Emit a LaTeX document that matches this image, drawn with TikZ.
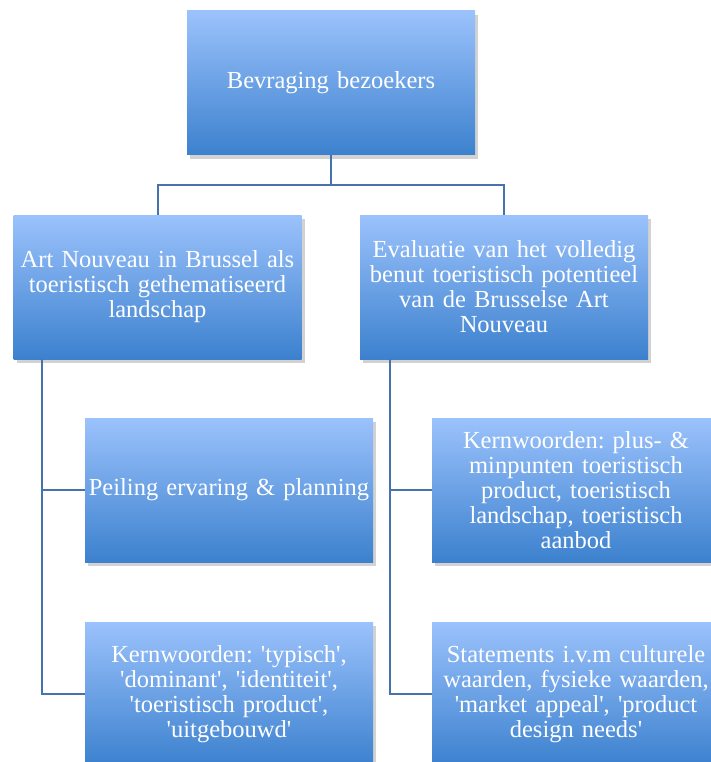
\documentclass[tikz,border=0pt]{standalone}
\usepackage{fontspec}
\setmainfont{Liberation Serif}
\usetikzlibrary{shadows}
\definecolor{blokboven}{RGB}{155,194,252}
\definecolor{blokmidden}{RGB}{134,178,242}
\definecolor{blokonder}{RGB}{60,129,206}
\definecolor{lijnkleur}{RGB}{70,114,174}
\newcommand\aq{\textquotesingle}
\newcommand\blokfont{\fontsize{24.5}{25}\selectfont\frenchspacing}
\tikzset{
  blok/.style={minimum width=288pt, minimum height=144pt, inner sep=1pt,
    text width=286pt, align=center, text=white, font=\blokfont,
    top color=blokboven, middle color=blokmidden, bottom color=blokonder,
    drop shadow={opacity=.35, shadow xshift=3pt, shadow yshift=-4pt}},
  lijn/.style={draw=lijnkleur, line width=2pt}
}
\begin{document}
\begin{tikzpicture}[x=1pt,y=-1pt]
\clip (0,0) rectangle (711,762);
\fill[white] (0,0) rectangle (711,762);
\draw[lijn] (331,155)--(331,185);
\node[blok] (top) at (331,83) {Bevraging bezoekers};
\node[blok] (links) at (157.5,287) {Art Nouveau in Brussel als\\toeristisch gethematiseerd\\landschap};
\node[blok] (rechts) at (504,287) {Evaluatie van het volledig\\benut toeristisch potentieel\\van de Brusselse Art\\Nouveau};
\node[blok] (l1) at (229,490) {Peiling ervaring \& planning};
\node[blok] (l2) at (229,694) {Kernwoorden: \aq typisch\aq,\\\aq dominant\aq, \aq identiteit\aq,\\\aq toeristisch product\aq,\\\aq uitgebouwd\aq};
\node[blok] (r1) at (576,490) {Kernwoorden: plus- \&\\minpunten toeristisch\\product, toeristisch\\landschap, toeristisch\\aanbod};
\node[blok] (r2) at (576,694) {Statements i.v.m culturele\\waarden, fysieke waarden,\\\aq market appeal\aq, \aq product\\design needs\aq};
\draw[lijn] (top.south) -- ++(0,30) -| (links.north);
\draw[lijn] (top.south) -- ++(0,30) -| (rechts.north);
\draw[lijn] ([xshift=29pt]links.south west) |- (l1.west);
\draw[lijn] ([xshift=29pt]links.south west) |- (l2.west);
\draw[lijn] ([xshift=30pt]rechts.south west) |- (r1.west);
\draw[lijn] ([xshift=30pt]rechts.south west) |- (r2.west);
\end{tikzpicture}
\end{document}
